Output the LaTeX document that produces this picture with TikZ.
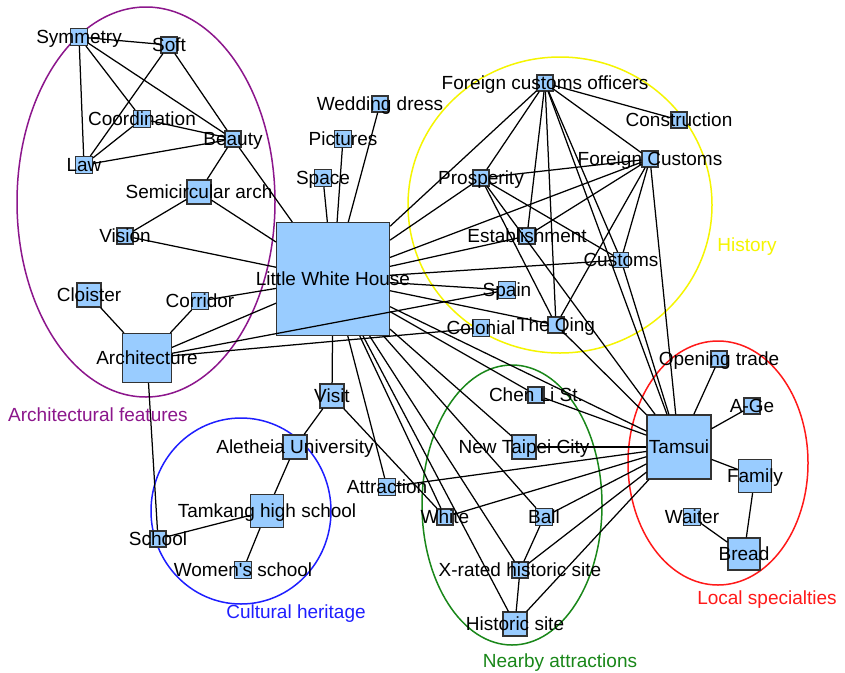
\documentclass[tikz,border=0pt]{standalone}
\usepackage{fontspec}
\setmainfont{Liberation Sans}[Ligatures=TeXOff]
\usetikzlibrary{shapes.geometric}
\definecolor{nodeblue}{RGB}{153,204,255}
\definecolor{grpPurple}{RGB}{140,22,140}
\definecolor{grpYellow}{RGB}{245,245,0}
\definecolor{grpBlue}{RGB}{30,30,255}
\definecolor{grpGreen}{RGB}{25,135,25}
\definecolor{grpRed}{RGB}{255,25,25}
\begin{document}
\begin{tikzpicture}[x=1pt,y=-1pt,
  sq/.style={draw=black!80, fill=nodeblue, line width=1.1pt, rectangle, inner sep=0pt, minimum size=#1},
  lab/.style={inner sep=0pt, text height=13.6pt, text depth=0pt, font=\fontsize{19}{19}\selectfont},
  edge/.style={line width=1.25pt, black},
  grp/.style={ellipse, draw, line width=1.5pt, inner sep=0pt},
]
\useasboundingbox[fill=white] (0,0) rectangle (845,672);

% group ellipses
\node[grp, draw=grpPurple, minimum width=258pt, minimum height=390pt] (gArch) at (146,202) {};
\node[grp, draw=grpYellow, minimum width=304pt, minimum height=296pt] (gHist) at (560,205) {};
\node[grp, draw=grpBlue, minimum width=180pt, minimum height=186pt] (gCult) at (241,511) {};
\node[grp, draw=grpGreen, minimum width=180pt, minimum height=280pt] (gNear) at (512,505) {};
\node[grp, draw=grpRed, minimum width=180pt, minimum height=244pt] (gLoc) at (718,463) {};

% square nodes
\node[sq=17pt] (sym) at (79,37) {};
\node[sq=16pt] (soft) at (169,45) {};
\node[sq=17pt] (coord) at (142,119) {};
\node[sq=16pt] (beauty) at (233,139) {};
\node[sq=17pt] (law) at (84,165) {};
\node[sq=24pt] (semi) at (199,192) {};
\node[sq=16pt] (vision) at (125,236) {};
\node[sq=113pt] (lwh) at (333,279) {};
\node[sq=17pt] (space) at (323,178) {};
\node[sq=17pt] (pict) at (343,139) {};
\node[sq=16pt] (wed) at (380,104) {};
\node[sq=16pt] (fco) at (545,83) {};
\node[sq=16pt] (constr) at (679,120) {};
\node[sq=16pt] (fc) at (650,159) {};
\node[sq=16pt] (prosp) at (481,178) {};
\node[sq=16pt] (estab) at (527,236) {};
\node[sq=15pt] (customs) at (621,260) {};
\node[sq=17pt] (spain) at (507,290) {};
\node[sq=17pt] (colon) at (481,328) {};
\node[sq=16pt] (qing) at (556,325) {};
\node[sq=16pt] (open) at (719,359) {};
\node[sq=16pt] (chen) at (536,395) {};
\node[sq=64pt] (tamsui) at (679,447) {};
\node[sq=16pt] (age) at (752,406) {};
\node[sq=33pt] (family) at (755,476) {};
\node[sq=24pt] (ntc) at (524,447) {};
\node[sq=17pt] (attr) at (387,487) {};
\node[sq=16pt] (white) at (445,517) {};
\node[sq=17pt] (ball) at (544,517) {};
\node[sq=16pt] (xrated) at (520,570) {};
\node[sq=24pt] (hist) at (515,624) {};
\node[sq=17pt] (waiter) at (692,517) {};
\node[sq=32pt] (bread) at (744,554) {};
\node[sq=24pt] (cloister) at (89,295) {};
\node[sq=17pt] (corridor) at (200,301) {};
\node[sq=49pt] (arch) at (147,358) {};
\node[sq=24pt] (visit) at (332,396) {};
\node[sq=24pt] (alet) at (295,447) {};
\node[sq=33pt] (tamkang) at (267,511) {};
\node[sq=16pt] (school) at (158,539) {};
\node[sq=17pt] (women) at (243,570) {};

% edges
\foreach \a/\b in {sym/soft, sym/law, sym/coord, sym/beauty, soft/law, soft/beauty,
  coord/law, coord/beauty, law/beauty, beauty/semi, beauty/lwh, semi/vision, semi/lwh, vision/lwh,
  cloister/arch, corridor/arch, corridor/lwh, arch/lwh, arch/colon, arch/spain, arch/school,
  space/lwh, pict/lwh, wed/lwh,
  lwh/fco, lwh/prosp, lwh/fc, lwh/estab, lwh/customs, lwh/spain, lwh/qing, lwh/chen, lwh/tamsui, lwh/ntc,
  lwh/visit, lwh/attr, lwh/white, lwh/hist, lwh/xrated, lwh/ball,
  fco/prosp, fco/constr, fco/fc, fco/estab, fco/qing, fco/customs, fco/tamsui, customs/tamsui,
  fc/prosp, fc/estab, fc/customs, fc/qing, fc/tamsui, prosp/qing, prosp/customs, prosp/tamsui, qing/tamsui,
  tamsui/open, tamsui/age, tamsui/family, tamsui/ntc, tamsui/chen, tamsui/attr, tamsui/white,
  tamsui/ball, tamsui/xrated, tamsui/hist,
  family/bread, waiter/bread, ball/xrated, xrated/hist,
  visit/alet, visit/white, alet/tamkang, tamkang/school, tamkang/women}
  {\draw[edge] (\a) -- (\b);}

% labels
\foreach \n/\t in {sym/Symmetry, soft/Soft, coord/Coordination, beauty/Beauty, law/Law,
  semi/Semicircular arch, vision/Vision, lwh/Little White House, space/Space, pict/Pictures,
  wed/Wedding dress, fco/Foreign customs officers, constr/Construction, fc/Foreign Customs,
  prosp/Prosperity, estab/Establishment, customs/Customs, spain/Spain, colon/Colonial,
  qing/The Qing, open/Opening trade, chen/Chen Li St., tamsui/Tamsui, age/A-Ge, family/Family,
  ntc/New Taipei City, attr/Attraction, white/White, ball/Ball, xrated/X-rated historic site,
  hist/Historic site, waiter/Waiter, bread/Bread, cloister/Cloister, corridor/Corridor,
  arch/Architecture, visit/Visit, alet/Aletheia University, tamkang/Tamkang high school,
  school/School, women/Women's school}
  {\node[lab] (t-\n) at (\n) {\t};}

% group labels
\node[lab, text=grpPurple] (lArch) at (98,415) {Architectural features};
\node[lab, text=grpYellow] (lHist) at (747,245) {History};
\node[lab, text=grpBlue] (lCult) at (296,612) {Cultural heritage};
\node[lab, text=grpGreen] (lNear) at (560,661) {Nearby attractions};
\node[lab, text=grpRed] (lLoc) at (767,598) {Local specialties};
\end{tikzpicture}
\end{document}
